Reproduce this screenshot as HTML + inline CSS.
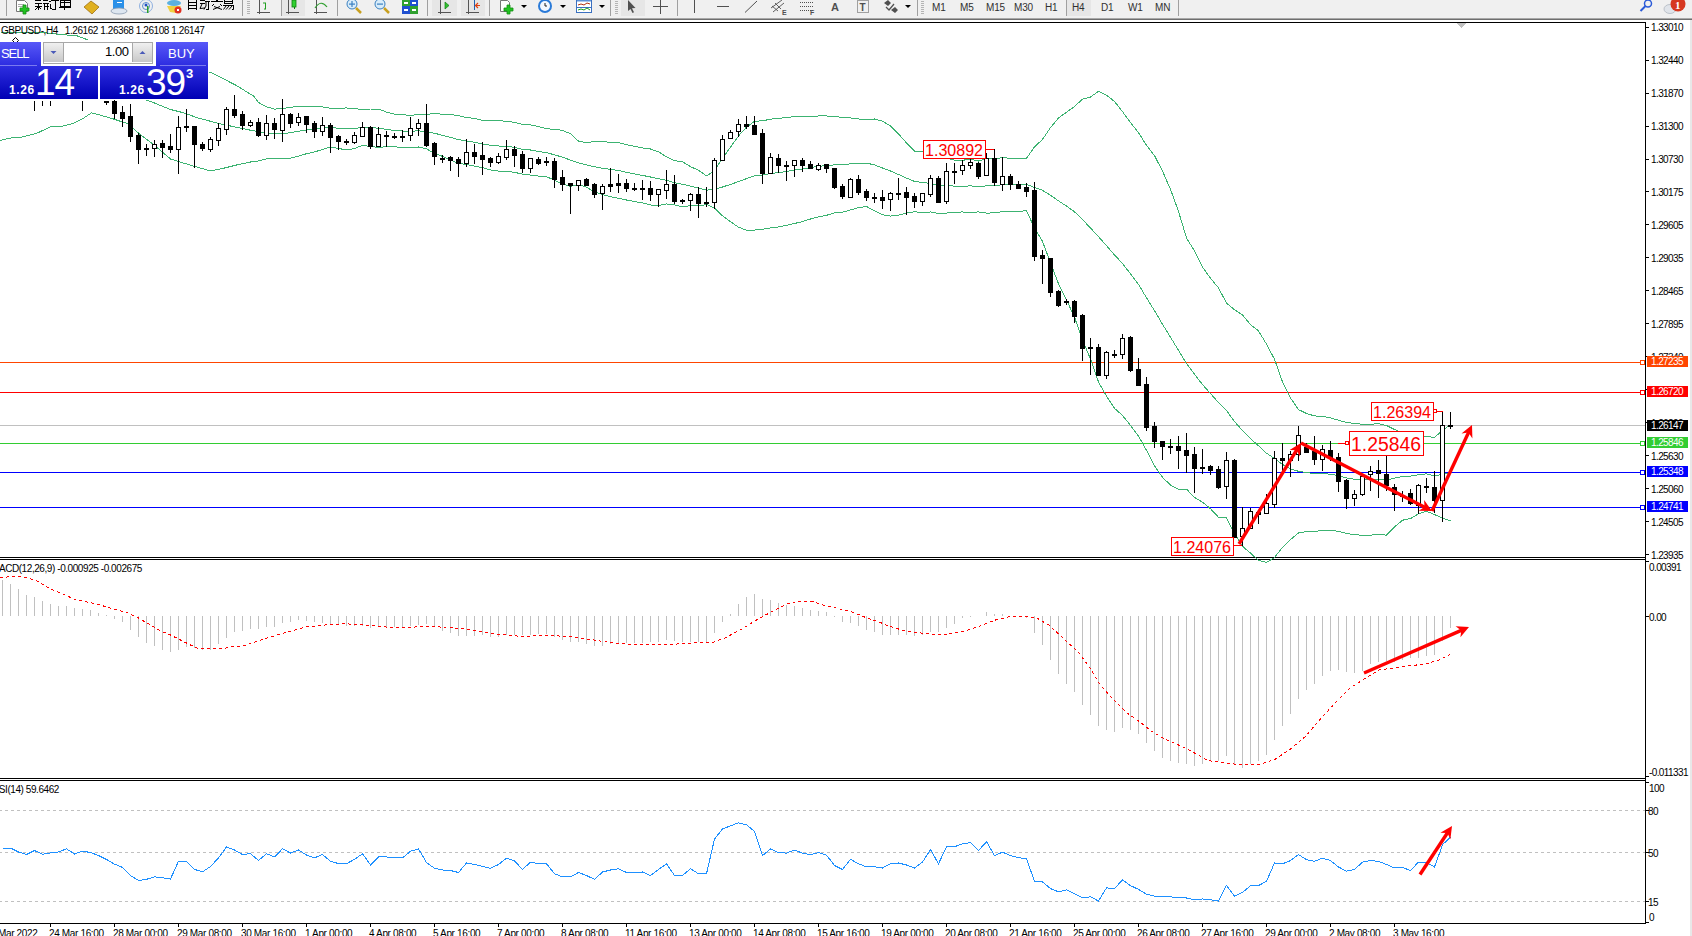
<!DOCTYPE html>
<html><head><meta charset="utf-8">
<style>
html,body{margin:0;padding:0;background:#fff;}
body{width:1692px;height:936px;position:relative;overflow:hidden;font-family:"Liberation Sans",sans-serif;}
.a{position:absolute;white-space:nowrap;}
#svg{position:absolute;left:0;top:0;}
.pl{position:absolute;left:1651px;font-size:10px;line-height:10px;letter-spacing:-0.6px;color:#000;white-space:nowrap;}
.ml{left:1649px;}
.tl{position:absolute;top:929px;font-size:10px;line-height:10px;letter-spacing:-0.35px;color:#000;white-space:nowrap;}
.lb{position:absolute;left:1647px;width:41px;height:11px;font-size:10px;line-height:11px;letter-spacing:-0.6px;color:#fff;text-indent:4px;white-space:nowrap;}
.ttl{font-size:10px;line-height:10px;letter-spacing:-0.43px;color:#000;}
.tf{top:3px;font-size:10px;line-height:10px;color:#303030;letter-spacing:-0.2px;}
.bt{font-size:13px;line-height:14px;color:#fff;}
.pr{font-size:12px;line-height:12px;color:#fff;font-weight:bold;letter-spacing:0.6px;}
.pb{font-size:37px;line-height:34px;color:#fff;letter-spacing:-1px;}
.ps{font-size:13px;line-height:12px;color:#fff;font-weight:bold;}
</style></head><body>
<div class="a" style="left:0;top:0;width:1692px;height:18px;background:#f0f0f0;"></div>
<div class="a" style="left:0;top:18px;width:1692px;height:1px;background:#a8a8a8;"></div>
<div class="a" style="left:0;top:19px;width:1692px;height:1px;background:#6e6e6e;"></div>
<svg class="a" style="left:0;top:0" width="1692" height="18" shape-rendering="geometricPrecision"><rect x="6" y="0" width="1" height="16" fill="#a0a0a0"/><rect x="242" y="0" width="1" height="16" fill="#a0a0a0"/><rect x="281" y="0" width="1" height="16" fill="#a0a0a0"/><rect x="337" y="0" width="1" height="16" fill="#a0a0a0"/><rect x="427" y="0" width="1" height="16" fill="#a0a0a0"/><rect x="432" y="0" width="1" height="16" fill="#a0a0a0"/><rect x="489" y="0" width="1" height="16" fill="#a0a0a0"/><rect x="610" y="0" width="1" height="16" fill="#a0a0a0"/><rect x="677" y="0" width="1" height="16" fill="#a0a0a0"/><rect x="917" y="0" width="1" height="16" fill="#a0a0a0"/><rect x="1066" y="0" width="1" height="16" fill="#a0a0a0"/><rect x="1178" y="0" width="1" height="16" fill="#a0a0a0"/><rect x="247" y="1" width="3" height="1" fill="#b4b4b4"/><rect x="247" y="3" width="3" height="1" fill="#b4b4b4"/><rect x="247" y="5" width="3" height="1" fill="#b4b4b4"/><rect x="247" y="7" width="3" height="1" fill="#b4b4b4"/><rect x="247" y="9" width="3" height="1" fill="#b4b4b4"/><rect x="247" y="11" width="3" height="1" fill="#b4b4b4"/><rect x="247" y="13" width="3" height="1" fill="#b4b4b4"/><rect x="615" y="1" width="3" height="1" fill="#b4b4b4"/><rect x="615" y="3" width="3" height="1" fill="#b4b4b4"/><rect x="615" y="5" width="3" height="1" fill="#b4b4b4"/><rect x="615" y="7" width="3" height="1" fill="#b4b4b4"/><rect x="615" y="9" width="3" height="1" fill="#b4b4b4"/><rect x="615" y="11" width="3" height="1" fill="#b4b4b4"/><rect x="615" y="13" width="3" height="1" fill="#b4b4b4"/><rect x="921" y="1" width="3" height="1" fill="#b4b4b4"/><rect x="921" y="3" width="3" height="1" fill="#b4b4b4"/><rect x="921" y="5" width="3" height="1" fill="#b4b4b4"/><rect x="921" y="7" width="3" height="1" fill="#b4b4b4"/><rect x="921" y="9" width="3" height="1" fill="#b4b4b4"/><rect x="921" y="11" width="3" height="1" fill="#b4b4b4"/><rect x="921" y="13" width="3" height="1" fill="#b4b4b4"/><rect x="282" y="0" width="23" height="16" fill="#e6e6e6"/><rect x="432" y="0" width="25" height="16" fill="#e6e6e6"/><rect x="461" y="0" width="24" height="16" fill="#e6e6e6"/><rect x="621" y="0" width="24" height="16" fill="#e6e6e6"/><rect x="1067" y="0" width="24" height="16" fill="#e6e6e6"/><path d="M16.5 0.5h8l3 3v8h-11z" fill="#fff" stroke="#777"/><rect x="18" y="4" width="6" height="1" fill="#aaa"/><rect x="18" y="6" width="6" height="1" fill="#aaa"/><path d="M23 5h3v3h3v3h-3v3h-3v-3h-3v-3h3z" fill="#22c322" stroke="#129012" stroke-width="0.8"/><g fill="#000"><rect x="35" y="0" width="6" height="1"/><rect x="35" y="3" width="7" height="1"/><rect x="38" y="3" width="1" height="7"/><rect x="35" y="6" width="7" height="1"/><path d="M38 7 L35 10 M39 7 L41 9" stroke="#000" stroke-width="1" fill="none"/><rect x="43" y="3" width="6" height="1"/><rect x="44" y="3" width="1" height="7"/><rect x="44" y="6" width="5" height="1"/><rect x="47" y="4" width="1" height="6"/><rect x="43" y="0" width="5" height="1"/><rect x="49" y="1" width="2" height="1"/><rect x="50" y="4" width="1" height="5"/><rect x="50" y="8" width="2" height="1"/><rect x="51" y="0" width="8" height="1"/><rect x="55" y="0" width="1" height="10"/><rect x="52" y="9" width="3" height="1"/><rect x="60" y="0" width="10" height="6" fill="none" stroke="#000" stroke-width="1" transform="translate(0.5,0.5) scale(1)"/><rect x="60" y="2" width="10" height="1"/><rect x="59" y="7" width="12" height="1"/><rect x="64" y="0" width="1" height="10"/></g><path d="M84 7 L91 1 L99 7 L92 14 Z" fill="#e0b020" stroke="#a07010" stroke-width="0.8"/><rect x="113" y="0" width="11" height="9" fill="#2a90e8"/><rect x="117" y="2" width="5" height="1" fill="#fff"/><ellipse cx="119" cy="11" rx="8" ry="3" fill="#dde6f0" stroke="#8a9ab0" stroke-width="0.8"/><circle cx="146" cy="6" r="6.5" fill="none" stroke="#8fb0e0" stroke-width="1"/><circle cx="146" cy="6" r="3.5" fill="none" stroke="#5a8ad0" stroke-width="1"/><circle cx="146" cy="5" r="1.5" fill="#2050c0"/><rect x="147" y="6" width="1.5" height="7" fill="#2aa02a"/><ellipse cx="174" cy="3" rx="7" ry="3" fill="#5ab0e0"/><path d="M167 6 L181 6 L176 13 L170 12 Z" fill="#f0d040"/><circle cx="178" cy="10" r="3.5" fill="#e03020"/><rect x="177" y="9" width="2" height="2" fill="#fff"/><g fill="#000"><rect x="188" y="0" width="1" height="10"/><rect x="196" y="0" width="1" height="10"/><rect x="188" y="2" width="9" height="1"/><rect x="188" y="5" width="9" height="1"/><rect x="188" y="8" width="9" height="1"/><rect x="200" y="0" width="5" height="1"/><rect x="200" y="3" width="5" height="1"/><path d="M202 4 L200 8.5 L205 8" stroke="#000" stroke-width="1" fill="none"/><rect x="205" y="1" width="5" height="1"/><rect x="208" y="1" width="1" height="9"/><rect x="206" y="9" width="3" height="1"/><path d="M206 2 L206 6 L204 9.5" stroke="#000" stroke-width="1" fill="none"/><rect x="211" y="1" width="12" height="1"/><rect x="216" y="0" width="2" height="1"/><path d="M214 4 L212 6 M220 4 L222 6 M213 9.5 L220 6.5 M214 6.5 L222 9.5" stroke="#000" stroke-width="1" fill="none"/><rect x="224" y="0" width="1" height="4"/><rect x="232" y="0" width="1" height="4"/><rect x="224" y="3" width="9" height="1"/><rect x="224" y="1" width="9" height="1"/><rect x="223" y="5" width="11" height="1"/><path d="M226 6 L223.5 9.5 M229 6 L226 9.5 M232 6 L229 9.5 M233.5 6 L233.5 9.5 L232 9.5" stroke="#000" stroke-width="1" fill="none"/></g><rect x="259" y="0" width="1" height="14" fill="#555"/><rect x="257" y="12" width="13" height="1" fill="#555"/><path d="M265.5 3 v6 M263 3h3 M266 9h-2" stroke="#20a020" stroke-width="1" fill="none"/><rect x="288" y="0" width="1" height="14" fill="#555"/><rect x="286" y="12" width="13" height="1" fill="#555"/><rect x="292" y="0" width="4" height="7" fill="#30d030" stroke="#108010" stroke-width="0.8"/><rect x="294" y="7" width="1" height="2" fill="#108010"/><rect x="316" y="0" width="1" height="14" fill="#555"/><rect x="314" y="12" width="13" height="1" fill="#555"/><path d="M315 8 Q321 -1 327 7" stroke="#30a030" stroke-width="1.2" fill="none"/><circle cx="352" cy="4" r="5" fill="#d8ecfa" stroke="#3a80c0" stroke-width="1"/><rect x="349" y="3.5" width="6" height="1.2" fill="#3a80c0"/><rect x="351.4" y="1" width="1.2" height="6" fill="#3a80c0"/><path d="M356 8 L361 13" stroke="#c8a020" stroke-width="2.5"/><circle cx="380" cy="4" r="5" fill="#d8ecfa" stroke="#3a80c0" stroke-width="1"/><rect x="377" y="3.5" width="6" height="1.2" fill="#3a80c0"/><path d="M384 8 L389 13" stroke="#c8a020" stroke-width="2.5"/><rect x="402" y="0" width="8" height="6" fill="#30a030"/><rect x="410" y="0" width="8" height="6" fill="#2050d0"/><rect x="402" y="6" width="8" height="8" fill="#2050d0"/><rect x="410" y="6" width="8" height="8" fill="#30a030"/><rect x="404" y="2" width="4" height="2" fill="#fff"/><rect x="412" y="2" width="4" height="2" fill="#fff"/><rect x="404" y="9" width="4" height="2" fill="#fff"/><rect x="412" y="9" width="4" height="2" fill="#fff"/><rect x="440" y="0" width="1" height="14" fill="#555"/><rect x="438" y="12" width="13" height="1" fill="#555"/><path d="M445 2 L449 5.5 L445 9 Z" fill="#30c030" stroke="#108010" stroke-width="0.7"/><rect x="468" y="0" width="1" height="14" fill="#555"/><rect x="466" y="12" width="13" height="1" fill="#555"/><rect x="474" y="0" width="1" height="10" fill="#2060b0"/><path d="M480 5.5 L476 5.5 M478 3 L475.5 5.5 L478 8" stroke="#e04010" stroke-width="1.2" fill="none"/><path d="M500.5 0.5h7l2 2v9h-9z" fill="#fff" stroke="#777"/><path d="M507 5h3v3h3v3h-3v3h-3v-3h-3v-3h3z" fill="#22c322" stroke="#129012" stroke-width="0.8"/><path d="M521 5 h6 l-3 3 z" fill="#000"/><path d="M560 5 h6 l-3 3 z" fill="#000"/><path d="M599 5 h6 l-3 3 z" fill="#000"/><path d="M905 5 h6 l-3 3 z" fill="#000"/><circle cx="545" cy="6" r="7" fill="#2a7ad8"/><circle cx="545" cy="6" r="5" fill="#f4f8ff"/><path d="M545 3 v3 h2" stroke="#222" stroke-width="1" fill="none"/><rect x="576.5" y="0" width="15" height="12.5" fill="#fff" stroke="#3a70c0"/><rect x="577" y="0" width="14" height="1.5" fill="#5a90d8"/><rect x="577" y="7" width="14" height="1" fill="#3a70c0"/><path d="M578 5 L581 4 L584 5 L587 3 L590 4" stroke="#b03010" stroke-width="1" fill="none"/><path d="M578 10 L581 9 L584 10 L587 8 L590 10" stroke="#20a020" stroke-width="1" fill="none"/><path d="M628 0 L628 11 L630.5 9 L632.5 13 L634 12.3 L632 8.3 L635.5 8 Z" fill="#505050"/><rect x="653" y="6" width="15" height="1" fill="#505050"/><rect x="660" y="0" width="1" height="14" fill="#505050"/><rect x="694" y="0" width="1" height="13" fill="#505050"/><rect x="717" y="6" width="12" height="1" fill="#505050"/><path d="M745 12.5 L757 1" stroke="#505050" stroke-width="1"/><path d="M771 8 L782 0 M773 12 L784 3 M772 6 L778 11 M775 3 L781 9" stroke="#505050" stroke-width="0.9"/><text x="782" y="15" font-size="7" font-weight="bold" fill="#505050" font-family="Liberation Sans">E</text><path d="M800 2.5 h13" stroke="#505050" stroke-width="1" stroke-dasharray="1 1"/><path d="M800 6.5 h13" stroke="#505050" stroke-width="1" stroke-dasharray="1 1"/><path d="M800 10.5 h13" stroke="#505050" stroke-width="1" stroke-dasharray="1 1"/><text x="810" y="15" font-size="7" font-weight="bold" fill="#505050" font-family="Liberation Sans">F</text><text x="831" y="11" font-size="11" font-weight="bold" fill="#505050" font-family="Liberation Sans">A</text><rect x="857.5" y="0.5" width="11" height="12" fill="none" stroke="#505050" stroke-dasharray="1 1"/><text x="859.5" y="10.5" font-size="10" font-weight="bold" fill="#505050" font-family="Liberation Sans">T</text><path d="M884 3 L888 0 L891 3 L888 6 Z M891 10 L895 7 L898 10 L895 13 Z" fill="#505050"/><path d="M886 7 L889 10 L894 4" stroke="#505050" stroke-width="1.3" fill="none"/><circle cx="1648" cy="3.5" r="3.5" fill="none" stroke="#2a5ad8" stroke-width="1.5"/><path d="M1645.5 6 L1640.5 11" stroke="#2a5ad8" stroke-width="2"/><ellipse cx="1670" cy="9" rx="6" ry="4.5" fill="#e0e4ea" stroke="#b0b8c0" stroke-width="0.8"/><circle cx="1678" cy="4" r="7.5" fill="#d63820"/><text x="1675" y="8.5" font-size="11" fill="#fff" font-family="Liberation Serif" font-weight="bold">1</text></svg>
<div class="a tf" style="left:932px;">M1</div>
<div class="a tf" style="left:960px;">M5</div>
<div class="a tf" style="left:986px;">M15</div>
<div class="a tf" style="left:1014px;">M30</div>
<div class="a tf" style="left:1045px;">H1</div>
<div class="a tf" style="left:1072px;">H4</div>
<div class="a tf" style="left:1101px;">D1</div>
<div class="a tf" style="left:1128px;">W1</div>
<div class="a tf" style="left:1155px;">MN</div>
<svg id="svg" width="1692" height="936" viewBox="0 0 1692 936">
<rect x="0" y="20" width="1692" height="916" fill="#fff"/><g shape-rendering="crispEdges"><rect x="0" y="22" width="1646" height="1" fill="#000"/><rect x="0" y="557" width="1646" height="1" fill="#000"/><rect x="0" y="559" width="1646" height="1" fill="#000"/><rect x="0" y="778" width="1646" height="1" fill="#000"/><rect x="0" y="780" width="1646" height="1" fill="#000"/><rect x="0" y="923" width="1646" height="1" fill="#000"/><rect x="1645" y="22" width="1" height="902" fill="#000"/><rect x="1690" y="20" width="2" height="916" fill="#e8e8e8"/><rect x="1646" y="27" width="3" height="1" fill="#000"/><rect x="1646" y="60" width="3" height="1" fill="#000"/><rect x="1646" y="93" width="3" height="1" fill="#000"/><rect x="1646" y="126" width="3" height="1" fill="#000"/><rect x="1646" y="159" width="3" height="1" fill="#000"/><rect x="1646" y="191" width="3" height="1" fill="#000"/><rect x="1646" y="224" width="3" height="1" fill="#000"/><rect x="1646" y="257" width="3" height="1" fill="#000"/><rect x="1646" y="290" width="3" height="1" fill="#000"/><rect x="1646" y="323" width="3" height="1" fill="#000"/><rect x="1646" y="356" width="3" height="1" fill="#000"/><rect x="1646" y="389" width="3" height="1" fill="#000"/><rect x="1646" y="422" width="3" height="1" fill="#000"/><rect x="1646" y="455" width="3" height="1" fill="#000"/><rect x="1646" y="488" width="3" height="1" fill="#000"/><rect x="1646" y="521" width="3" height="1" fill="#000"/><rect x="1646" y="554" width="3" height="1" fill="#000"/><rect x="1646" y="561" width="3" height="1" fill="#000"/><rect x="1646" y="616" width="3" height="1" fill="#000"/><rect x="1646" y="776" width="3" height="1" fill="#000"/><rect x="1646" y="782" width="3" height="1" fill="#000"/><rect x="1646" y="810" width="3" height="1" fill="#000"/><rect x="1646" y="852" width="3" height="1" fill="#000"/><rect x="1646" y="901" width="3" height="1" fill="#000"/><rect x="1646" y="922" width="3" height="1" fill="#000"/><rect x="50" y="924" width="1" height="3" fill="#000"/><rect x="114" y="924" width="1" height="3" fill="#000"/><rect x="178" y="924" width="1" height="3" fill="#000"/><rect x="242" y="924" width="1" height="3" fill="#000"/><rect x="306" y="924" width="1" height="3" fill="#000"/><rect x="370" y="924" width="1" height="3" fill="#000"/><rect x="434" y="924" width="1" height="3" fill="#000"/><rect x="498" y="924" width="1" height="3" fill="#000"/><rect x="562" y="924" width="1" height="3" fill="#000"/><rect x="626" y="924" width="1" height="3" fill="#000"/><rect x="690" y="924" width="1" height="3" fill="#000"/><rect x="754" y="924" width="1" height="3" fill="#000"/><rect x="818" y="924" width="1" height="3" fill="#000"/><rect x="882" y="924" width="1" height="3" fill="#000"/><rect x="946" y="924" width="1" height="3" fill="#000"/><rect x="1010" y="924" width="1" height="3" fill="#000"/><rect x="1074" y="924" width="1" height="3" fill="#000"/><rect x="1138" y="924" width="1" height="3" fill="#000"/><rect x="1202" y="924" width="1" height="3" fill="#000"/><rect x="1266" y="924" width="1" height="3" fill="#000"/><rect x="1330" y="924" width="1" height="3" fill="#000"/><rect x="1394" y="924" width="1" height="3" fill="#000"/><path d="M1457 23 L1466 23 L1461.5 28 Z" fill="#c0c0c0"/></g><g shape-rendering="crispEdges">
<rect x="0" y="425" width="1645" height="1" fill="#c0c0c0"/>
<rect x="0" y="362" width="1640" height="1" fill="#ff4500"/>
<rect x="1640.5" y="360.0" width="4" height="4" fill="#fff" stroke="#ff4500" stroke-width="1"/>
<rect x="0" y="392" width="1640" height="1" fill="#ff0000"/>
<rect x="1640.5" y="390.0" width="4" height="4" fill="#fff" stroke="#ff0000" stroke-width="1"/>
<rect x="0" y="443" width="1640" height="1" fill="#32cd32"/>
<rect x="1640.5" y="441.0" width="4" height="4" fill="#fff" stroke="#32cd32" stroke-width="1"/>
<rect x="0" y="472" width="1640" height="1" fill="#0000ff"/>
<rect x="1640.5" y="470.0" width="4" height="4" fill="#fff" stroke="#0000ff" stroke-width="1"/>
<rect x="0" y="507" width="1640" height="1" fill="#0000ff"/>
<rect x="1640.5" y="505.0" width="4" height="4" fill="#fff" stroke="#0000ff" stroke-width="1"/>
</g>
<g shape-rendering="crispEdges"><polyline points="0.5,32.9 46.5,32.9 50.5,33.5 77.5,36 88.5,40.1 100.5,45.5 140.5,60.5 211.1,72.5 236,85.3 253.5,96 258.5,102.5 266.5,106.8 274.5,109.1 282.5,108.5 290.5,107.4 298.5,106.3 306.5,106.2 314.5,106.5 322.5,107 330.5,108.3 338.5,108.1 346.5,108 354.5,108.5 362.5,109.7 370.5,109 378.5,109 386.5,112.1 394.5,114.1 402.5,114.7 410.5,115.4 418.5,114.6 426.5,114.8 434.5,113.1 442.5,114.4 450.5,114.4 458.5,115.7 466.5,117.6 474.5,118.4 482.5,120.3 490.5,120.4 498.5,120.8 506.5,121.2 514.5,122.4 522.5,124.5 530.5,124.9 538.5,126.6 546.5,128.7 554.5,129.5 562.5,130.3 570.5,133.8 578.5,141.1 586.5,142.7 594.5,141.5 602.5,141.8 610.5,142.2 618.5,142.6 626.5,144.6 634.5,146.3 642.5,147.9 650.5,149 658.5,151.8 666.5,156.9 674.5,160.6 682.5,161.9 690.5,166.6 698.5,170.3 706.5,175.9 714.5,170.6 722.5,158.3 730.5,147.1 738.5,136 746.5,127.1 754.5,121.3 762.5,120.8 770.5,119.2 778.5,118.3 786.5,117.6 794.5,116.6 802.5,116.1 810.5,116.2 818.5,116 826.5,115.9 834.5,116.8 842.5,117.2 850.5,117.9 858.5,119 866.5,119.7 874.5,119 882.5,121.2 890.5,125.9 898.5,133.9 906.5,143 914.5,151.1 922.5,151.9 930.5,155 938.5,157.1 946.5,158.1 954.5,160.2 962.5,160.3 970.5,159.1 978.5,161 986.5,158.8 994.5,158.5 1002.5,157.8 1010.5,158.2 1018.5,158.1 1026.5,158.3 1034.5,146.9 1042.5,139.4 1050.5,127.6 1058.5,117.9 1066.5,112.3 1074.5,106.5 1082.5,99.1 1090.5,97 1098.5,91.4 1106.5,95.3 1114.5,101.4 1122.5,111.6 1130.5,122.6 1138.5,132.6 1146.5,145.3 1154.5,155.6 1162.5,171.1 1170.5,189.4 1178.5,211.4 1186.5,238 1194.5,250.9 1202.5,267 1210.5,278.3 1218.5,287.9 1226.5,303 1234.5,309.8 1242.5,314.9 1250.5,324.6 1258.5,330.9 1266.5,344.1 1274.5,359.3 1282.5,381.9 1290.5,398 1298.5,409.6 1306.5,413.5 1314.5,415.9 1322.5,416.4 1330.5,417.8 1338.5,420.3 1346.5,422.4 1354.5,423.5 1362.5,424.2 1370.5,424.3 1378.5,423.7 1386.5,425.5 1394.5,429.5 1402.5,432.8 1410.5,433.6 1418.5,435.5 1426.5,436.5 1434.5,437.4 1442.5,430.3 1450.5,424.6" fill="none" stroke="#3cb371" stroke-width="1" />
<polyline points="140.5,98 151.2,101.7 170.5,109.5 185.2,113.2 197,117.7 219.2,123.6 229.5,125.8 250.5,130.2 258.5,131.7 266.5,132.8 274.5,133.6 282.5,133.4 290.5,132.8 298.5,131.2 306.5,130 314.5,129.3 322.5,128.2 330.5,127.6 338.5,128.2 346.5,129 354.5,128.5 362.5,127.5 370.5,127.8 378.5,128.1 386.5,129.4 394.5,130.5 402.5,131 410.5,131.3 418.5,130.8 426.5,131.8 434.5,133.2 442.5,135.4 450.5,137.3 458.5,139.6 466.5,141 474.5,142.2 482.5,143.9 490.5,145.2 498.5,146 506.5,146.4 514.5,147.3 522.5,149.3 530.5,150 538.5,151.4 546.5,152.7 554.5,154.8 562.5,157.2 570.5,160.1 578.5,162.9 586.5,164.9 594.5,166.7 602.5,168.2 610.5,169.4 618.5,170.5 626.5,172.3 634.5,173.9 642.5,175.4 650.5,177 658.5,178.7 666.5,180.4 674.5,182.7 682.5,184.3 690.5,186.1 698.5,188.1 706.5,190.2 714.5,189.3 722.5,187 730.5,184.4 738.5,181.6 746.5,178.6 754.5,175.7 762.5,175 770.5,173.6 778.5,172.6 786.5,171.5 794.5,170.1 802.5,168.9 810.5,167.6 818.5,166.4 826.5,165.6 834.5,164.9 842.5,164.7 850.5,163.9 858.5,163.4 866.5,163.1 874.5,164.9 882.5,168 890.5,171 898.5,174.5 906.5,178.1 914.5,181.4 922.5,182.4 930.5,183.5 938.5,185.3 946.5,185.6 954.5,186.1 962.5,186.2 970.5,185.9 978.5,186.4 986.5,185.9 994.5,185.7 1002.5,184.7 1010.5,185 1018.5,184.8 1026.5,184.5 1034.5,187.4 1042.5,190.3 1050.5,195.3 1058.5,200.9 1066.5,206.1 1074.5,211.8 1082.5,219.6 1090.5,228 1098.5,236.7 1106.5,245.7 1114.5,254.9 1122.5,263.5 1130.5,273.9 1138.5,284.4 1146.5,297.8 1154.5,310.7 1162.5,324.2 1170.5,337.2 1178.5,350.4 1186.5,363.6 1194.5,374.2 1202.5,384.6 1210.5,393.5 1218.5,402.6 1226.5,410.5 1234.5,421.6 1242.5,430.6 1250.5,438.8 1258.5,445.7 1266.5,453.2 1274.5,458.4 1282.5,464.5 1290.5,468.8 1298.5,471.3 1306.5,472.6 1314.5,473.5 1322.5,473.6 1330.5,474.2 1338.5,475.7 1346.5,477.9 1354.5,479.2 1362.5,479.7 1370.5,479.7 1378.5,479.1 1386.5,480.3 1394.5,478.2 1402.5,476.5 1410.5,476.1 1418.5,474.7 1426.5,473.9 1434.5,476 1442.5,474.2 1450.5,472.7" fill="none" stroke="#3cb371" stroke-width="1" />
<polyline points="0.5,140.5 9.4,138.1 19.7,137.6 36,133.6 50.7,126.8 59.5,126.8 72.9,123.6 83.2,118.4 91.4,112.9 98,114.4 112.8,118.8 127.5,123.6 139.5,133.9 154.2,145 170.5,159 189.5,164.9 210.3,170.9 222.1,168.6 236.9,164.9 250.5,162 258.5,160.9 266.5,158.8 274.5,158.1 282.5,158.4 290.5,158.1 298.5,156.1 306.5,153.7 314.5,152 322.5,149.4 330.5,146.9 338.5,148.4 346.5,150 354.5,148.5 362.5,145.3 370.5,146.7 378.5,147.3 386.5,146.8 394.5,146.8 402.5,147.4 410.5,147.3 418.5,147 426.5,148.8 434.5,153.4 442.5,156.4 450.5,160.1 458.5,163.4 466.5,164.4 474.5,166.1 482.5,167.6 490.5,169.9 498.5,171.1 506.5,171.5 514.5,172.3 522.5,174.2 530.5,175.1 538.5,176.1 546.5,176.7 554.5,180.2 562.5,184.2 570.5,186.3 578.5,184.6 586.5,187.1 594.5,192 602.5,194.5 610.5,196.6 618.5,198.3 626.5,200 634.5,201.5 642.5,202.9 650.5,205 658.5,205.5 666.5,203.9 674.5,204.8 682.5,206.8 690.5,205.7 698.5,205.9 706.5,204.5 714.5,208 722.5,215.8 730.5,221.7 738.5,227.2 746.5,230.2 754.5,230.1 762.5,229.2 770.5,228 778.5,226.9 786.5,225.3 794.5,223.5 802.5,221.6 810.5,219 818.5,216.8 826.5,215.3 834.5,212.9 842.5,212.2 850.5,209.9 858.5,207.7 866.5,206.5 874.5,210.8 882.5,214.7 890.5,216.1 898.5,215.1 906.5,213.1 914.5,211.7 922.5,212.9 930.5,211.9 938.5,213.5 946.5,213.1 954.5,212.1 962.5,212 970.5,212.6 978.5,211.9 986.5,213.1 994.5,212.9 1002.5,211.6 1010.5,211.8 1018.5,211.4 1026.5,210.7 1034.5,228 1042.5,241.3 1050.5,262.9 1058.5,283.8 1066.5,299.9 1074.5,317.1 1082.5,340 1090.5,359 1098.5,382 1106.5,396.2 1114.5,408.3 1122.5,415.5 1130.5,425.3 1138.5,436.1 1146.5,450.3 1154.5,465.8 1162.5,477.3 1170.5,485.1 1178.5,489.3 1186.5,489.1 1194.5,497.4 1202.5,502.2 1210.5,508.7 1218.5,517.3 1226.5,518 1234.5,533.4 1242.5,546.3 1250.5,553.1 1258.5,560.5 1266.5,562.3 1274.5,557.6 1282.5,547.2 1290.5,539.6 1298.5,533 1306.5,531.6 1314.5,531.1 1322.5,530.9 1330.5,530.6 1338.5,531.2 1346.5,533.4 1354.5,534.9 1362.5,535.1 1370.5,535.1 1378.5,534.4 1386.5,535.1 1394.5,526.9 1402.5,520.2 1410.5,518.6 1418.5,513.9 1426.5,511.3 1434.5,514.5 1442.5,518.1 1450.5,520.9" fill="none" stroke="#3cb371" stroke-width="1" /></g>
<g fill="#000" shape-rendering="crispEdges"><rect x="34" y="101" width="1" height="10"/>
<rect x="42" y="101" width="1" height="5"/>
<rect x="50" y="101" width="1" height="5"/>
<rect x="82" y="101" width="1" height="10"/>
<rect x="106" y="101" width="1" height="4"/>
<rect x="104" y="101" width="5" height="2"/>
<rect x="114" y="99" width="1" height="20"/>
<rect x="112" y="101" width="5" height="13"/>
<rect x="122" y="106" width="1" height="21"/>
<rect x="120" y="112" width="5" height="7"/>
<rect x="130" y="104" width="1" height="38"/>
<rect x="128" y="116" width="5" height="21"/>
<rect x="138" y="133" width="1" height="31"/>
<rect x="136" y="135" width="5" height="15"/>
<rect x="146" y="144" width="1" height="12"/>
<rect x="144" y="148" width="5" height="2"/>
<rect x="154" y="140" width="1" height="17"/>
<rect x="152" y="144" width="5" height="5"/>
<rect x="153" y="145" width="3" height="3" fill="#fff"/>
<rect x="162" y="140" width="1" height="18"/>
<rect x="160" y="143" width="5" height="5"/>
<rect x="170" y="134" width="1" height="19"/>
<rect x="168" y="146" width="5" height="4"/>
<rect x="178" y="116" width="1" height="58"/>
<rect x="176" y="127" width="5" height="23"/>
<rect x="177" y="128" width="3" height="21" fill="#fff"/>
<rect x="186" y="109" width="1" height="23"/>
<rect x="184" y="126" width="5" height="2"/>
<rect x="194" y="126" width="1" height="42"/>
<rect x="192" y="126" width="5" height="19"/>
<rect x="202" y="142" width="1" height="9"/>
<rect x="200" y="144" width="5" height="5"/>
<rect x="210" y="137" width="1" height="15"/>
<rect x="208" y="139" width="5" height="11"/>
<rect x="209" y="140" width="3" height="9" fill="#fff"/>
<rect x="218" y="123" width="1" height="23"/>
<rect x="216" y="128" width="5" height="13"/>
<rect x="217" y="129" width="3" height="11" fill="#fff"/>
<rect x="226" y="107" width="1" height="28"/>
<rect x="224" y="109" width="5" height="21"/>
<rect x="225" y="110" width="3" height="19" fill="#fff"/>
<rect x="234" y="95" width="1" height="23"/>
<rect x="232" y="109" width="5" height="7"/>
<rect x="242" y="111" width="1" height="19"/>
<rect x="240" y="114" width="5" height="12"/>
<rect x="250" y="120" width="1" height="7"/>
<rect x="248" y="122" width="5" height="4"/>
<rect x="249" y="123" width="3" height="2" fill="#fff"/>
<rect x="258" y="118" width="1" height="19"/>
<rect x="256" y="122" width="5" height="14"/>
<rect x="266" y="115" width="1" height="25"/>
<rect x="264" y="123" width="5" height="13"/>
<rect x="265" y="124" width="3" height="11" fill="#fff"/>
<rect x="274" y="118" width="1" height="21"/>
<rect x="272" y="123" width="5" height="7"/>
<rect x="282" y="99" width="1" height="43"/>
<rect x="280" y="114" width="5" height="17"/>
<rect x="281" y="115" width="3" height="15" fill="#fff"/>
<rect x="290" y="113" width="1" height="15"/>
<rect x="288" y="114" width="5" height="10"/>
<rect x="298" y="113" width="1" height="13"/>
<rect x="296" y="117" width="5" height="6"/>
<rect x="297" y="118" width="3" height="4" fill="#fff"/>
<rect x="306" y="116" width="1" height="17"/>
<rect x="304" y="116" width="5" height="9"/>
<rect x="314" y="121" width="1" height="17"/>
<rect x="312" y="123" width="5" height="9"/>
<rect x="322" y="117" width="1" height="19"/>
<rect x="320" y="125" width="5" height="7"/>
<rect x="321" y="126" width="3" height="5" fill="#fff"/>
<rect x="330" y="123" width="1" height="30"/>
<rect x="328" y="125" width="5" height="13"/>
<rect x="338" y="135" width="1" height="15"/>
<rect x="336" y="136" width="5" height="6"/>
<rect x="346" y="139" width="1" height="6"/>
<rect x="344" y="141" width="5" height="2"/>
<rect x="354" y="132" width="1" height="12"/>
<rect x="352" y="135" width="5" height="8"/>
<rect x="353" y="136" width="3" height="6" fill="#fff"/>
<rect x="362" y="122" width="1" height="15"/>
<rect x="360" y="127" width="5" height="10"/>
<rect x="361" y="128" width="3" height="8" fill="#fff"/>
<rect x="370" y="126" width="1" height="23"/>
<rect x="368" y="127" width="5" height="20"/>
<rect x="378" y="127" width="1" height="20"/>
<rect x="376" y="134" width="5" height="13"/>
<rect x="377" y="135" width="3" height="11" fill="#fff"/>
<rect x="386" y="131" width="1" height="16"/>
<rect x="384" y="135" width="5" height="2"/>
<rect x="394" y="133" width="1" height="6"/>
<rect x="392" y="136" width="5" height="2"/>
<rect x="402" y="130" width="1" height="12"/>
<rect x="400" y="136" width="5" height="2"/>
<rect x="410" y="117" width="1" height="24"/>
<rect x="408" y="128" width="5" height="8"/>
<rect x="409" y="129" width="3" height="6" fill="#fff"/>
<rect x="418" y="119" width="1" height="17"/>
<rect x="416" y="123" width="5" height="6"/>
<rect x="417" y="124" width="3" height="4" fill="#fff"/>
<rect x="426" y="104" width="1" height="43"/>
<rect x="424" y="123" width="5" height="23"/>
<rect x="434" y="142" width="1" height="23"/>
<rect x="432" y="143" width="5" height="14"/>
<rect x="442" y="155" width="1" height="8"/>
<rect x="440" y="158" width="5" height="2"/>
<rect x="450" y="156" width="1" height="15"/>
<rect x="448" y="157" width="5" height="4"/>
<rect x="458" y="157" width="1" height="20"/>
<rect x="456" y="159" width="5" height="5"/>
<rect x="466" y="139" width="1" height="28"/>
<rect x="464" y="152" width="5" height="12"/>
<rect x="465" y="153" width="3" height="10" fill="#fff"/>
<rect x="474" y="144" width="1" height="20"/>
<rect x="472" y="152" width="5" height="5"/>
<rect x="482" y="142" width="1" height="33"/>
<rect x="480" y="155" width="5" height="5"/>
<rect x="490" y="157" width="1" height="10"/>
<rect x="488" y="158" width="5" height="5"/>
<rect x="498" y="153" width="1" height="11"/>
<rect x="496" y="156" width="5" height="7"/>
<rect x="497" y="157" width="3" height="5" fill="#fff"/>
<rect x="506" y="140" width="1" height="20"/>
<rect x="504" y="149" width="5" height="9"/>
<rect x="505" y="150" width="3" height="7" fill="#fff"/>
<rect x="514" y="146" width="1" height="21"/>
<rect x="512" y="149" width="5" height="7"/>
<rect x="522" y="151" width="1" height="22"/>
<rect x="520" y="154" width="5" height="15"/>
<rect x="530" y="158" width="1" height="15"/>
<rect x="528" y="158" width="5" height="11"/>
<rect x="529" y="159" width="3" height="9" fill="#fff"/>
<rect x="538" y="157" width="1" height="8"/>
<rect x="536" y="159" width="5" height="5"/>
<rect x="546" y="157" width="1" height="9"/>
<rect x="544" y="161" width="5" height="2"/>
<rect x="554" y="158" width="1" height="30"/>
<rect x="552" y="161" width="5" height="19"/>
<rect x="562" y="170" width="1" height="21"/>
<rect x="560" y="177" width="5" height="8"/>
<rect x="570" y="183" width="1" height="31"/>
<rect x="568" y="183" width="5" height="3"/>
<rect x="578" y="180" width="1" height="11"/>
<rect x="576" y="180" width="5" height="6"/>
<rect x="577" y="181" width="3" height="4" fill="#fff"/>
<rect x="586" y="178" width="1" height="8"/>
<rect x="584" y="179" width="5" height="7"/>
<rect x="594" y="183" width="1" height="15"/>
<rect x="592" y="184" width="5" height="11"/>
<rect x="602" y="184" width="1" height="26"/>
<rect x="600" y="186" width="5" height="8"/>
<rect x="601" y="187" width="3" height="6" fill="#fff"/>
<rect x="610" y="168" width="1" height="24"/>
<rect x="608" y="184" width="5" height="3"/>
<rect x="618" y="174" width="1" height="19"/>
<rect x="616" y="183" width="5" height="3"/>
<rect x="626" y="179" width="1" height="13"/>
<rect x="624" y="183" width="5" height="6"/>
<rect x="634" y="183" width="1" height="8"/>
<rect x="632" y="188" width="5" height="2"/>
<rect x="642" y="180" width="1" height="20"/>
<rect x="640" y="188" width="5" height="2"/>
<rect x="650" y="181" width="1" height="20"/>
<rect x="648" y="188" width="5" height="7"/>
<rect x="658" y="189" width="1" height="18"/>
<rect x="656" y="189" width="5" height="6"/>
<rect x="657" y="190" width="3" height="4" fill="#fff"/>
<rect x="666" y="170" width="1" height="29"/>
<rect x="664" y="184" width="5" height="7"/>
<rect x="665" y="185" width="3" height="5" fill="#fff"/>
<rect x="674" y="175" width="1" height="29"/>
<rect x="672" y="184" width="5" height="18"/>
<rect x="682" y="199" width="1" height="5"/>
<rect x="680" y="200" width="5" height="2"/>
<rect x="690" y="193" width="1" height="18"/>
<rect x="688" y="194" width="5" height="7"/>
<rect x="689" y="195" width="3" height="5" fill="#fff"/>
<rect x="698" y="187" width="1" height="31"/>
<rect x="696" y="194" width="5" height="10"/>
<rect x="706" y="187" width="1" height="20"/>
<rect x="704" y="202" width="5" height="2"/>
<rect x="714" y="158" width="1" height="51"/>
<rect x="712" y="160" width="5" height="43"/>
<rect x="713" y="161" width="3" height="41" fill="#fff"/>
<rect x="722" y="135" width="1" height="26"/>
<rect x="720" y="139" width="5" height="22"/>
<rect x="721" y="140" width="3" height="20" fill="#fff"/>
<rect x="730" y="130" width="1" height="9"/>
<rect x="728" y="132" width="5" height="7"/>
<rect x="729" y="133" width="3" height="5" fill="#fff"/>
<rect x="738" y="119" width="1" height="18"/>
<rect x="736" y="124" width="5" height="8"/>
<rect x="737" y="125" width="3" height="6" fill="#fff"/>
<rect x="746" y="116" width="1" height="13"/>
<rect x="744" y="124" width="5" height="3"/>
<rect x="754" y="116" width="1" height="19"/>
<rect x="752" y="125" width="5" height="10"/>
<rect x="762" y="129" width="1" height="55"/>
<rect x="760" y="133" width="5" height="41"/>
<rect x="770" y="153" width="1" height="21"/>
<rect x="768" y="157" width="5" height="17"/>
<rect x="769" y="158" width="3" height="15" fill="#fff"/>
<rect x="778" y="154" width="1" height="19"/>
<rect x="776" y="158" width="5" height="8"/>
<rect x="786" y="161" width="1" height="20"/>
<rect x="784" y="165" width="5" height="2"/>
<rect x="794" y="160" width="1" height="17"/>
<rect x="792" y="160" width="5" height="6"/>
<rect x="793" y="161" width="3" height="4" fill="#fff"/>
<rect x="802" y="158" width="1" height="14"/>
<rect x="800" y="160" width="5" height="6"/>
<rect x="810" y="161" width="1" height="8"/>
<rect x="808" y="164" width="5" height="5"/>
<rect x="818" y="163" width="1" height="8"/>
<rect x="816" y="165" width="5" height="5"/>
<rect x="817" y="166" width="3" height="3" fill="#fff"/>
<rect x="826" y="164" width="1" height="9"/>
<rect x="824" y="164" width="5" height="5"/>
<rect x="834" y="168" width="1" height="21"/>
<rect x="832" y="168" width="5" height="20"/>
<rect x="842" y="184" width="1" height="15"/>
<rect x="840" y="186" width="5" height="11"/>
<rect x="850" y="178" width="1" height="20"/>
<rect x="848" y="179" width="5" height="19"/>
<rect x="849" y="180" width="3" height="17" fill="#fff"/>
<rect x="858" y="175" width="1" height="20"/>
<rect x="856" y="179" width="5" height="14"/>
<rect x="866" y="189" width="1" height="12"/>
<rect x="864" y="191" width="5" height="7"/>
<rect x="874" y="193" width="1" height="10"/>
<rect x="872" y="197" width="5" height="2"/>
<rect x="882" y="190" width="1" height="19"/>
<rect x="880" y="197" width="5" height="4"/>
<rect x="890" y="192" width="1" height="19"/>
<rect x="888" y="193" width="5" height="7"/>
<rect x="889" y="194" width="3" height="5" fill="#fff"/>
<rect x="898" y="178" width="1" height="22"/>
<rect x="896" y="193" width="5" height="2"/>
<rect x="906" y="187" width="1" height="28"/>
<rect x="904" y="192" width="5" height="6"/>
<rect x="914" y="193" width="1" height="15"/>
<rect x="912" y="196" width="5" height="6"/>
<rect x="922" y="193" width="1" height="13"/>
<rect x="920" y="193" width="5" height="9"/>
<rect x="921" y="194" width="3" height="7" fill="#fff"/>
<rect x="930" y="175" width="1" height="22"/>
<rect x="928" y="178" width="5" height="17"/>
<rect x="929" y="179" width="3" height="15" fill="#fff"/>
<rect x="938" y="176" width="1" height="27"/>
<rect x="936" y="178" width="5" height="25"/>
<rect x="946" y="163" width="1" height="41"/>
<rect x="944" y="171" width="5" height="31"/>
<rect x="945" y="172" width="3" height="29" fill="#fff"/>
<rect x="954" y="163" width="1" height="21"/>
<rect x="952" y="171" width="5" height="2"/>
<rect x="962" y="160" width="1" height="15"/>
<rect x="960" y="165" width="5" height="6"/>
<rect x="961" y="166" width="3" height="4" fill="#fff"/>
<rect x="970" y="158" width="1" height="11"/>
<rect x="968" y="162" width="5" height="4"/>
<rect x="969" y="163" width="3" height="2" fill="#fff"/>
<rect x="978" y="162" width="1" height="17"/>
<rect x="976" y="163" width="5" height="14"/>
<rect x="986" y="153" width="1" height="23"/>
<rect x="984" y="158" width="5" height="18"/>
<rect x="985" y="159" width="3" height="16" fill="#fff"/>
<rect x="994" y="149" width="1" height="37"/>
<rect x="992" y="158" width="5" height="25"/>
<rect x="1002" y="157" width="1" height="34"/>
<rect x="1000" y="176" width="5" height="9"/>
<rect x="1001" y="177" width="3" height="7" fill="#fff"/>
<rect x="1010" y="174" width="1" height="16"/>
<rect x="1008" y="176" width="5" height="9"/>
<rect x="1018" y="181" width="1" height="8"/>
<rect x="1016" y="184" width="5" height="5"/>
<rect x="1026" y="183" width="1" height="14"/>
<rect x="1024" y="187" width="5" height="5"/>
<rect x="1034" y="182" width="1" height="79"/>
<rect x="1032" y="190" width="5" height="67"/>
<rect x="1042" y="250" width="1" height="34"/>
<rect x="1040" y="255" width="5" height="4"/>
<rect x="1050" y="258" width="1" height="39"/>
<rect x="1048" y="258" width="5" height="35"/>
<rect x="1058" y="290" width="1" height="17"/>
<rect x="1056" y="291" width="5" height="15"/>
<rect x="1066" y="299" width="1" height="6"/>
<rect x="1064" y="301" width="5" height="2"/>
<rect x="1074" y="300" width="1" height="23"/>
<rect x="1072" y="301" width="5" height="16"/>
<rect x="1082" y="314" width="1" height="47"/>
<rect x="1080" y="315" width="5" height="34"/>
<rect x="1090" y="338" width="1" height="37"/>
<rect x="1088" y="347" width="5" height="2"/>
<rect x="1098" y="344" width="1" height="32"/>
<rect x="1096" y="347" width="5" height="29"/>
<rect x="1106" y="351" width="1" height="28"/>
<rect x="1104" y="352" width="5" height="24"/>
<rect x="1105" y="353" width="3" height="22" fill="#fff"/>
<rect x="1114" y="350" width="1" height="8"/>
<rect x="1112" y="354" width="5" height="2"/>
<rect x="1122" y="334" width="1" height="25"/>
<rect x="1120" y="338" width="5" height="17"/>
<rect x="1121" y="339" width="3" height="15" fill="#fff"/>
<rect x="1130" y="336" width="1" height="36"/>
<rect x="1128" y="337" width="5" height="34"/>
<rect x="1138" y="358" width="1" height="28"/>
<rect x="1136" y="369" width="5" height="17"/>
<rect x="1146" y="377" width="1" height="54"/>
<rect x="1144" y="384" width="5" height="44"/>
<rect x="1154" y="422" width="1" height="26"/>
<rect x="1152" y="426" width="5" height="16"/>
<rect x="1162" y="441" width="1" height="19"/>
<rect x="1160" y="441" width="5" height="6"/>
<rect x="1170" y="439" width="1" height="15"/>
<rect x="1168" y="446" width="5" height="2"/>
<rect x="1178" y="436" width="1" height="33"/>
<rect x="1176" y="446" width="5" height="5"/>
<rect x="1186" y="433" width="1" height="40"/>
<rect x="1184" y="450" width="5" height="6"/>
<rect x="1194" y="447" width="1" height="46"/>
<rect x="1192" y="454" width="5" height="15"/>
<rect x="1202" y="449" width="1" height="25"/>
<rect x="1200" y="467" width="5" height="2"/>
<rect x="1210" y="465" width="1" height="10"/>
<rect x="1208" y="466" width="5" height="5"/>
<rect x="1218" y="466" width="1" height="23"/>
<rect x="1216" y="469" width="5" height="19"/>
<rect x="1226" y="452" width="1" height="47"/>
<rect x="1224" y="460" width="5" height="27"/>
<rect x="1225" y="461" width="3" height="25" fill="#fff"/>
<rect x="1234" y="459" width="1" height="79"/>
<rect x="1232" y="460" width="5" height="78"/>
<rect x="1242" y="507" width="1" height="39"/>
<rect x="1240" y="528" width="5" height="9"/>
<rect x="1241" y="529" width="3" height="7" fill="#fff"/>
<rect x="1250" y="508" width="1" height="21"/>
<rect x="1248" y="511" width="5" height="18"/>
<rect x="1249" y="512" width="3" height="16" fill="#fff"/>
<rect x="1258" y="511" width="1" height="13"/>
<rect x="1256" y="512" width="5" height="3"/>
<rect x="1266" y="494" width="1" height="20"/>
<rect x="1264" y="503" width="5" height="11"/>
<rect x="1265" y="504" width="3" height="9" fill="#fff"/>
<rect x="1274" y="451" width="1" height="57"/>
<rect x="1272" y="458" width="5" height="47"/>
<rect x="1273" y="459" width="3" height="45" fill="#fff"/>
<rect x="1282" y="443" width="1" height="28"/>
<rect x="1280" y="458" width="5" height="3"/>
<rect x="1290" y="451" width="1" height="26"/>
<rect x="1288" y="454" width="5" height="7"/>
<rect x="1289" y="455" width="3" height="5" fill="#fff"/>
<rect x="1298" y="426" width="1" height="35"/>
<rect x="1296" y="435" width="5" height="20"/>
<rect x="1297" y="436" width="3" height="18" fill="#fff"/>
<rect x="1306" y="443" width="1" height="10"/>
<rect x="1304" y="447" width="5" height="6"/>
<rect x="1314" y="436" width="1" height="29"/>
<rect x="1312" y="451" width="5" height="9"/>
<rect x="1322" y="445" width="1" height="26"/>
<rect x="1320" y="449" width="5" height="11"/>
<rect x="1321" y="450" width="3" height="9" fill="#fff"/>
<rect x="1330" y="441" width="1" height="20"/>
<rect x="1328" y="450" width="5" height="8"/>
<rect x="1338" y="453" width="1" height="39"/>
<rect x="1336" y="457" width="5" height="25"/>
<rect x="1346" y="479" width="1" height="30"/>
<rect x="1344" y="480" width="5" height="19"/>
<rect x="1354" y="490" width="1" height="16"/>
<rect x="1352" y="494" width="5" height="5"/>
<rect x="1353" y="495" width="3" height="3" fill="#fff"/>
<rect x="1362" y="474" width="1" height="22"/>
<rect x="1360" y="476" width="5" height="19"/>
<rect x="1361" y="477" width="3" height="17" fill="#fff"/>
<rect x="1370" y="466" width="1" height="25"/>
<rect x="1368" y="471" width="5" height="4"/>
<rect x="1369" y="472" width="3" height="2" fill="#fff"/>
<rect x="1378" y="460" width="1" height="38"/>
<rect x="1376" y="470" width="5" height="4"/>
<rect x="1386" y="453" width="1" height="38"/>
<rect x="1384" y="474" width="5" height="12"/>
<rect x="1394" y="484" width="1" height="27"/>
<rect x="1392" y="487" width="5" height="8"/>
<rect x="1402" y="491" width="1" height="11"/>
<rect x="1400" y="495" width="5" height="2"/>
<rect x="1410" y="489" width="1" height="16"/>
<rect x="1408" y="493" width="5" height="11"/>
<rect x="1418" y="484" width="1" height="30"/>
<rect x="1416" y="485" width="5" height="21"/>
<rect x="1417" y="486" width="3" height="19" fill="#fff"/>
<rect x="1426" y="478" width="1" height="15"/>
<rect x="1424" y="486" width="5" height="2"/>
<rect x="1434" y="471" width="1" height="42"/>
<rect x="1432" y="487" width="5" height="14"/>
<rect x="1442" y="412" width="1" height="110"/>
<rect x="1440" y="425" width="5" height="76"/>
<rect x="1441" y="426" width="3" height="74" fill="#fff"/>
<rect x="1450" y="412" width="1" height="17"/>
<rect x="1448" y="425" width="5" height="2"/></g>
<g fill="#c0c0c0" shape-rendering="crispEdges"><rect x="2" y="580" width="1" height="36"/>
<rect x="10" y="584" width="1" height="32"/>
<rect x="18" y="589" width="1" height="27"/>
<rect x="26" y="595" width="1" height="21"/>
<rect x="34" y="597" width="1" height="19"/>
<rect x="42" y="601" width="1" height="15"/>
<rect x="50" y="604" width="1" height="12"/>
<rect x="58" y="606" width="1" height="10"/>
<rect x="66" y="606" width="1" height="10"/>
<rect x="74" y="608" width="1" height="8"/>
<rect x="82" y="609" width="1" height="7"/>
<rect x="90" y="610" width="1" height="6"/>
<rect x="98" y="613" width="1" height="3"/>
<rect x="106" y="615" width="1" height="1"/>
<rect x="114" y="616" width="1" height="3"/>
<rect x="122" y="616" width="1" height="6"/>
<rect x="130" y="616" width="1" height="14"/>
<rect x="138" y="616" width="1" height="21"/>
<rect x="146" y="616" width="1" height="27"/>
<rect x="154" y="616" width="1" height="30"/>
<rect x="162" y="616" width="1" height="34"/>
<rect x="170" y="616" width="1" height="36"/>
<rect x="178" y="616" width="1" height="34"/>
<rect x="186" y="616" width="1" height="31"/>
<rect x="194" y="616" width="1" height="32"/>
<rect x="202" y="616" width="1" height="34"/>
<rect x="210" y="616" width="1" height="34"/>
<rect x="218" y="616" width="1" height="28"/>
<rect x="226" y="616" width="1" height="22"/>
<rect x="234" y="616" width="1" height="16"/>
<rect x="242" y="616" width="1" height="15"/>
<rect x="250" y="616" width="1" height="13"/>
<rect x="258" y="616" width="1" height="13"/>
<rect x="266" y="616" width="1" height="11"/>
<rect x="274" y="616" width="1" height="11"/>
<rect x="282" y="616" width="1" height="7"/>
<rect x="290" y="616" width="1" height="6"/>
<rect x="298" y="616" width="1" height="4"/>
<rect x="306" y="616" width="1" height="5"/>
<rect x="314" y="616" width="1" height="6"/>
<rect x="322" y="616" width="1" height="7"/>
<rect x="330" y="616" width="1" height="8"/>
<rect x="338" y="616" width="1" height="9"/>
<rect x="346" y="616" width="1" height="10"/>
<rect x="354" y="616" width="1" height="10"/>
<rect x="362" y="616" width="1" height="10"/>
<rect x="370" y="616" width="1" height="12"/>
<rect x="378" y="616" width="1" height="11"/>
<rect x="386" y="616" width="1" height="11"/>
<rect x="394" y="616" width="1" height="11"/>
<rect x="402" y="616" width="1" height="11"/>
<rect x="410" y="616" width="1" height="10"/>
<rect x="418" y="616" width="1" height="9"/>
<rect x="426" y="616" width="1" height="8"/>
<rect x="434" y="616" width="1" height="11"/>
<rect x="442" y="616" width="1" height="15"/>
<rect x="450" y="616" width="1" height="17"/>
<rect x="458" y="616" width="1" height="20"/>
<rect x="466" y="616" width="1" height="20"/>
<rect x="474" y="616" width="1" height="20"/>
<rect x="482" y="616" width="1" height="19"/>
<rect x="490" y="616" width="1" height="21"/>
<rect x="498" y="616" width="1" height="21"/>
<rect x="506" y="616" width="1" height="19"/>
<rect x="514" y="616" width="1" height="19"/>
<rect x="522" y="616" width="1" height="19"/>
<rect x="530" y="616" width="1" height="19"/>
<rect x="538" y="616" width="1" height="18"/>
<rect x="546" y="616" width="1" height="18"/>
<rect x="554" y="616" width="1" height="21"/>
<rect x="562" y="616" width="1" height="24"/>
<rect x="570" y="616" width="1" height="26"/>
<rect x="578" y="616" width="1" height="26"/>
<rect x="586" y="616" width="1" height="28"/>
<rect x="594" y="616" width="1" height="30"/>
<rect x="602" y="616" width="1" height="30"/>
<rect x="610" y="616" width="1" height="28"/>
<rect x="618" y="616" width="1" height="28"/>
<rect x="626" y="616" width="1" height="27"/>
<rect x="634" y="616" width="1" height="27"/>
<rect x="642" y="616" width="1" height="27"/>
<rect x="650" y="616" width="1" height="26"/>
<rect x="658" y="616" width="1" height="26"/>
<rect x="666" y="616" width="1" height="24"/>
<rect x="674" y="616" width="1" height="25"/>
<rect x="682" y="616" width="1" height="26"/>
<rect x="690" y="616" width="1" height="26"/>
<rect x="698" y="616" width="1" height="26"/>
<rect x="706" y="616" width="1" height="26"/>
<rect x="714" y="616" width="1" height="17"/>
<rect x="722" y="616" width="1" height="6"/>
<rect x="730" y="614" width="1" height="2"/>
<rect x="738" y="604" width="1" height="12"/>
<rect x="746" y="597" width="1" height="19"/>
<rect x="754" y="594" width="1" height="22"/>
<rect x="762" y="599" width="1" height="17"/>
<rect x="770" y="600" width="1" height="16"/>
<rect x="778" y="603" width="1" height="13"/>
<rect x="786" y="605" width="1" height="11"/>
<rect x="794" y="606" width="1" height="10"/>
<rect x="802" y="608" width="1" height="8"/>
<rect x="810" y="610" width="1" height="6"/>
<rect x="818" y="611" width="1" height="5"/>
<rect x="826" y="612" width="1" height="4"/>
<rect x="834" y="616" width="1" height="1"/>
<rect x="842" y="616" width="1" height="6"/>
<rect x="850" y="616" width="1" height="7"/>
<rect x="858" y="616" width="1" height="10"/>
<rect x="866" y="616" width="1" height="14"/>
<rect x="874" y="616" width="1" height="16"/>
<rect x="882" y="616" width="1" height="19"/>
<rect x="890" y="616" width="1" height="19"/>
<rect x="898" y="616" width="1" height="19"/>
<rect x="906" y="616" width="1" height="19"/>
<rect x="914" y="616" width="1" height="20"/>
<rect x="922" y="616" width="1" height="19"/>
<rect x="930" y="616" width="1" height="16"/>
<rect x="938" y="616" width="1" height="16"/>
<rect x="946" y="616" width="1" height="12"/>
<rect x="954" y="616" width="1" height="8"/>
<rect x="962" y="616" width="1" height="2"/>
<rect x="970" y="616" width="1" height="1"/>
<rect x="986" y="612" width="1" height="4"/>
<rect x="994" y="614" width="1" height="2"/>
<rect x="1002" y="614" width="1" height="2"/>
<rect x="1026" y="616" width="1" height="2"/>
<rect x="1034" y="616" width="1" height="17"/>
<rect x="1042" y="616" width="1" height="29"/>
<rect x="1050" y="616" width="1" height="44"/>
<rect x="1058" y="616" width="1" height="58"/>
<rect x="1066" y="616" width="1" height="68"/>
<rect x="1074" y="616" width="1" height="76"/>
<rect x="1082" y="616" width="1" height="89"/>
<rect x="1090" y="616" width="1" height="99"/>
<rect x="1098" y="616" width="1" height="110"/>
<rect x="1106" y="616" width="1" height="114"/>
<rect x="1114" y="616" width="1" height="116"/>
<rect x="1122" y="616" width="1" height="112"/>
<rect x="1130" y="616" width="1" height="114"/>
<rect x="1138" y="616" width="1" height="118"/>
<rect x="1146" y="616" width="1" height="127"/>
<rect x="1154" y="616" width="1" height="135"/>
<rect x="1162" y="616" width="1" height="142"/>
<rect x="1170" y="616" width="1" height="145"/>
<rect x="1178" y="616" width="1" height="147"/>
<rect x="1186" y="616" width="1" height="148"/>
<rect x="1194" y="616" width="1" height="150"/>
<rect x="1202" y="616" width="1" height="148"/>
<rect x="1210" y="616" width="1" height="145"/>
<rect x="1218" y="616" width="1" height="145"/>
<rect x="1226" y="616" width="1" height="140"/>
<rect x="1234" y="616" width="1" height="148"/>
<rect x="1242" y="616" width="1" height="152"/>
<rect x="1250" y="616" width="1" height="148"/>
<rect x="1258" y="616" width="1" height="145"/>
<rect x="1266" y="616" width="1" height="139"/>
<rect x="1274" y="616" width="1" height="124"/>
<rect x="1282" y="616" width="1" height="110"/>
<rect x="1290" y="616" width="1" height="98"/>
<rect x="1298" y="616" width="1" height="83"/>
<rect x="1306" y="616" width="1" height="74"/>
<rect x="1314" y="616" width="1" height="68"/>
<rect x="1322" y="616" width="1" height="60"/>
<rect x="1330" y="616" width="1" height="55"/>
<rect x="1338" y="616" width="1" height="54"/>
<rect x="1346" y="616" width="1" height="56"/>
<rect x="1354" y="616" width="1" height="57"/>
<rect x="1362" y="616" width="1" height="55"/>
<rect x="1370" y="616" width="1" height="48"/>
<rect x="1378" y="616" width="1" height="46"/>
<rect x="1386" y="616" width="1" height="45"/>
<rect x="1394" y="616" width="1" height="46"/>
<rect x="1402" y="616" width="1" height="44"/>
<rect x="1410" y="616" width="1" height="42"/>
<rect x="1418" y="616" width="1" height="42"/>
<rect x="1426" y="616" width="1" height="40"/>
<rect x="1434" y="616" width="1" height="39"/>
<rect x="1442" y="616" width="1" height="25"/>
<rect x="1450" y="616" width="1" height="12"/></g>
<polyline points="0.5,577.8 15.5,575.9 25.5,577.3 35.5,580.3 50.5,589 65.5,595.2 75.5,599.7 90.5,602.7 100.5,605.1 110.5,608.1 125.5,612.1 135.5,616.3 150.5,625 160.5,630.9 168.5,634 174.5,637 180.5,640 186.5,643 192.5,646 198.5,648.5 210.5,648.9 222.5,648.9 228.5,647.5 234.5,646 242.5,646 255.5,641.9 270.5,636.9 290.5,631.2 305.5,627 325.5,625 345.5,623.8 365.5,625 385.5,627 410.5,627.5 420.5,626.4 445.5,627.2 470.1,629.6 495,633.9 519.8,636.3 544.5,635.6 569.5,636.3 594.2,640.1 619.1,643.8 643.9,644.5 668.5,644.5 693.5,643 713.4,642.1 725.8,637.6 743.2,628.2 758,619 775.5,609.8 787.8,603.3 797.8,601.6 812.5,601.6 822.5,604.8 840,609 852.9,612.3 865.3,617.3 877.7,621.5 890.1,626.5 902.5,630.2 915,632.2 927.4,633.9 944.7,634.7 957.2,632.7 969.5,629.7 982,625.2 994.4,620.3 1009.3,616.6 1024.2,616.1 1036.5,617.8 1049,625.2 1063.9,638.9 1078.8,652.5 1091.2,669.9 1101.1,686.1 1113.5,699.7 1125.9,712.1 1138.3,720.8 1150.8,730.7 1163.2,738.2 1188,749.3 1207.8,760.5 1225.2,763 1242.5,765 1260.3,764.2 1275.2,759.3 1290.1,749.3 1305,736.9 1319.9,719.6 1334.7,703.4 1349.6,688.5 1364.5,678.6 1379.4,669.9 1394.3,667.9 1409.2,665.5 1424.1,664.5 1439,660 1450.2,654.5" fill="none" stroke="#ff0000" stroke-width="1" stroke-dasharray="3 3" shape-rendering="crispEdges"/>
<line x1="0" y1="810.5" x2="1645" y2="810.5" stroke="#c0c0c0" stroke-width="1" stroke-dasharray="3 3" stroke-dashoffset="1" shape-rendering="crispEdges"/>
<line x1="0" y1="852.5" x2="1645" y2="852.5" stroke="#c0c0c0" stroke-width="1" stroke-dasharray="3 3" stroke-dashoffset="1" shape-rendering="crispEdges"/>
<line x1="0" y1="901.5" x2="1645" y2="901.5" stroke="#c0c0c0" stroke-width="1" stroke-dasharray="3 3" stroke-dashoffset="1" shape-rendering="crispEdges"/>
<polyline points="2.5,848 10.5,848 18.5,852 26.5,854.5 34.5,850.5 42.5,854.2 50.5,853 58.5,852 66.5,848.8 74.5,854 82.5,851.2 90.5,852.5 98.5,855.5 106.5,859.5 114.5,864.1 122.5,867.4 130.5,875.5 138.5,880.5 146.5,879.3 154.5,876.8 162.5,877.8 170.5,879 178.5,861.2 186.5,861.2 194.5,869.4 202.5,871.8 210.5,866.6 218.5,857.9 226.5,847 234.5,850 242.5,854.5 250.5,853.7 258.5,860.4 266.5,853.7 274.5,856.9 282.5,848.8 290.5,853 298.5,850 306.5,855 314.5,857.9 322.5,854.5 330.5,861.2 338.5,863.6 346.5,863.6 354.5,859.4 362.5,853.7 370.5,864.9 378.5,856.9 386.5,856.9 394.5,857.9 402.5,857.9 410.5,851.2 418.5,848.9 426.5,862.5 434.5,868.3 442.5,870 450.5,870.5 458.5,872.5 466.5,863 474.5,864.5 482.5,866.3 490.5,868.3 498.5,864.5 506.5,858.1 514.5,860.8 522.5,869.5 530.5,862.1 538.5,863.8 546.5,863.8 554.5,873.7 562.5,876.9 570.5,876.9 578.5,872.5 586.5,875.5 594.5,879.4 602.5,872 610.5,870 618.5,868.8 626.5,872.5 634.5,873 642.5,872 650.5,875.5 658.5,869.5 666.5,863.8 674.5,875.5 682.5,875.5 690.5,868.8 698.5,873.7 706.5,873.7 714.5,839 722.5,829 730.5,825.8 738.5,822.8 746.5,824.8 754.5,831.5 762.5,855.6 770.5,848.9 778.5,852.6 786.5,853.1 794.5,850.1 802.5,853.1 810.5,854.6 818.5,852.6 826.5,855.1 834.5,865.5 842.5,869.5 850.5,859.3 858.5,863.8 866.5,866.8 874.5,866.8 882.5,868 890.5,863.8 898.5,863 906.5,865 914.5,868 922.5,862.1 930.5,849.6 938.5,863.8 946.5,846.7 954.5,846.7 962.5,843.9 970.5,842.7 978.5,850.6 986.5,841.7 994.5,855.6 1002.5,852.1 1010.5,855.6 1018.5,857.6 1026.5,858.8 1034.5,881.4 1042.5,881.9 1050.5,888.6 1058.5,891.8 1066.5,889.9 1074.5,893.6 1082.5,897.8 1090.5,896.8 1098.5,901 1106.5,887.9 1114.5,888.6 1122.5,879.9 1130.5,885.6 1138.5,889.4 1146.5,894.3 1154.5,896.1 1162.5,896.8 1170.5,896.8 1178.5,897.8 1186.5,898 1194.5,899.8 1202.5,899 1210.5,899.8 1218.5,901 1226.5,885.4 1234.5,896.1 1242.5,892.5 1250.5,885.6 1258.5,885.6 1266.5,881.2 1274.5,863 1282.5,863.8 1290.5,860.6 1298.5,854.6 1306.5,859.6 1314.5,861.3 1322.5,858.1 1330.5,860.6 1338.5,867 1346.5,871.2 1354.5,869.5 1362.5,862.1 1370.5,860.6 1378.5,861.3 1386.5,864.5 1394.5,868 1402.5,867.5 1410.5,870.5 1418.5,862.1 1426.5,862.5 1434.5,867 1442.5,844.7 1450.5,837.2" fill="none" stroke="#1e90ff" stroke-width="1" shape-rendering="crispEdges"/><rect x="923.5" y="140.5" width="62" height="18" fill="#fff" stroke="#ff0000" stroke-width="1"/><text x="925.0" y="156.0" font-family="Liberation Sans" font-size="16.5" fill="#ff0000" textLength="58" lengthAdjust="spacingAndGlyphs">1.30892</text><rect x="985" y="149" width="9" height="1" fill="#ff0000"/><rect x="1171.5" y="537.5" width="62" height="18" fill="#fff" stroke="#ff0000" stroke-width="1"/><text x="1173.0" y="553.0" font-family="Liberation Sans" font-size="16.5" fill="#ff0000" textLength="58" lengthAdjust="spacingAndGlyphs">1.24076</text><rect x="1233" y="545" width="9" height="1" fill="#ff0000"/><rect x="1371.5" y="402.5" width="62" height="18" fill="#fff" stroke="#ff0000" stroke-width="1"/><text x="1373.0" y="418.0" font-family="Liberation Sans" font-size="16.5" fill="#ff0000" textLength="58" lengthAdjust="spacingAndGlyphs">1.26394</text><rect x="1433.5" y="409.5" width="3" height="3" fill="#fff" stroke="#ff0000" stroke-width="1"/><rect x="1437" y="411" width="5" height="1" fill="#ff0000"/><rect x="1442" y="411" width="1" height="1" fill="#ff0000"/><rect x="1349.5" y="431.5" width="74" height="24" fill="#fff" stroke="#ff0000" stroke-width="1"/><text x="1351.0" y="451.0" font-family="Liberation Sans" font-size="20" fill="#ff0000" textLength="70" lengthAdjust="spacingAndGlyphs">1.25846</text><rect x="1338" y="443" width="8" height="1" fill="#ff0000"/><rect x="1345.5" y="441.5" width="3" height="3" fill="#fff" stroke="#ff0000" stroke-width="1"/><path d="M1239.0 544.0 L1297.2 449.1" stroke="#ff0000" stroke-width="3.4" stroke-linecap="butt"/><path d="M1301.0 443.0 L1299.8 456.4 L1296.6 450.2 L1289.6 450.1 Z" fill="#ff0000"/><path d="M1301.0 443.0 L1425.6 507.7" stroke="#ff0000" stroke-width="3.4" stroke-linecap="butt"/><path d="M1432.0 511.0 L1418.6 510.8 L1424.5 507.1 L1424.1 500.1 Z" fill="#ff0000"/><path d="M1432.0 511.0 L1469.0 431.5" stroke="#ff0000" stroke-width="3.4" stroke-linecap="butt"/><path d="M1472.0 425.0 L1472.4 438.4 L1468.5 432.6 L1461.5 433.4 Z" fill="#ff0000"/><path d="M1364.0 673.0 L1462.4 629.9" stroke="#ff0000" stroke-width="3.4" stroke-linecap="butt"/><path d="M1469.0 627.0 L1460.4 637.3 L1461.3 630.4 L1455.6 626.3 Z" fill="#ff0000"/><path d="M1420.0 874.5 L1448.0 832.0" stroke="#ff0000" stroke-width="3.4" stroke-linecap="butt"/><path d="M1452.0 826.0 L1450.4 839.3 L1447.4 833.0 L1440.4 832.7 Z" fill="#ff0000"/>
</svg>
<div class="pl" style="top:23px">1.33010</div>
<div class="pl" style="top:56px">1.32440</div>
<div class="pl" style="top:89px">1.31870</div>
<div class="pl" style="top:122px">1.31300</div>
<div class="pl" style="top:155px">1.30730</div>
<div class="pl" style="top:188px">1.30175</div>
<div class="pl" style="top:221px">1.29605</div>
<div class="pl" style="top:254px">1.29035</div>
<div class="pl" style="top:287px">1.28465</div>
<div class="pl" style="top:320px">1.27895</div>
<div class="pl" style="top:353px">1.27340</div>
<div class="pl" style="top:386px">1.26770</div>
<div class="pl" style="top:419px">1.26200</div>
<div class="pl" style="top:452px">1.25630</div>
<div class="pl" style="top:485px">1.25060</div>
<div class="pl" style="top:518px">1.24505</div>
<div class="pl" style="top:551px">1.23935</div>
<div class="lb" style="top:356px;background:#ff4500">1.27235</div>
<div class="lb" style="top:386px;background:#ff0000">1.26720</div>
<div class="lb" style="top:420px;background:#000000">1.26147</div>
<div class="lb" style="top:437px;background:#32cd32">1.25846</div>
<div class="lb" style="top:466px;background:#0000ff">1.25348</div>
<div class="lb" style="top:501px;background:#0000ff">1.24741</div>
<div class="pl" style="top:563px;left:1649px">0.00391</div>
<div class="pl" style="top:613px;left:1649px">0.00</div>
<div class="pl" style="top:768px;left:1649px">-0.011331</div>
<div class="pl" style="top:784px;left:1649px">100</div>
<div class="pl" style="top:807px;left:1648px">80</div>
<div class="pl" style="top:849px;left:1648px">50</div>
<div class="pl" style="top:898px;left:1648px">15</div>
<div class="pl" style="top:913px;left:1649px">0</div>
<div class="tl" style="left:-2px">Mar 2022</div>
<div class="tl" style="left:49px">24 Mar 16:00</div>
<div class="tl" style="left:113px">28 Mar 00:00</div>
<div class="tl" style="left:177px">29 Mar 08:00</div>
<div class="tl" style="left:241px">30 Mar 16:00</div>
<div class="tl" style="left:305px">1 Apr 00:00</div>
<div class="tl" style="left:369px">4 Apr 08:00</div>
<div class="tl" style="left:433px">5 Apr 16:00</div>
<div class="tl" style="left:497px">7 Apr 00:00</div>
<div class="tl" style="left:561px">8 Apr 08:00</div>
<div class="tl" style="left:625px">11 Apr 16:00</div>
<div class="tl" style="left:689px">13 Apr 00:00</div>
<div class="tl" style="left:753px">14 Apr 08:00</div>
<div class="tl" style="left:817px">15 Apr 16:00</div>
<div class="tl" style="left:881px">19 Apr 00:00</div>
<div class="tl" style="left:945px">20 Apr 08:00</div>
<div class="tl" style="left:1009px">21 Apr 16:00</div>
<div class="tl" style="left:1073px">25 Apr 00:00</div>
<div class="tl" style="left:1137px">26 Apr 08:00</div>
<div class="tl" style="left:1201px">27 Apr 16:00</div>
<div class="tl" style="left:1265px">29 Apr 00:00</div>
<div class="tl" style="left:1329px">2 May 08:00</div>
<div class="tl" style="left:1393px">3 May 16:00</div>
<div class="a ttl" style="left:1px;top:26px">GBPUSD-,H4&nbsp;&nbsp; 1.26162 1.26368 1.26108 1.26147</div>
<div class="a ttl" style="left:-9px;top:564px">MACD(12,26,9) -0.000925 -0.002675</div>
<div class="a ttl" style="left:-8px;top:785px">RSI(14) 59.6462</div>
<div class="a" style="left:0;top:40px;width:209px;height:60px;background:#fff;"></div>
<svg class="a" style="left:12px;top:37px" width="8" height="7"><path d="M3.5 0.5 L6.5 3.5 L3.5 6.5 L0.5 3.5 Z" fill="#fff" stroke="#000" stroke-width="1"/></svg>
<div class="a" style="left:0;top:42px;width:41px;height:24px;background:linear-gradient(#5858f8,#2c2ce0);"></div>
<div class="a" style="left:0;top:65px;width:37px;height:1px;background:#7a7af0;"></div>
<div class="a bt" style="left:1px;top:47px;letter-spacing:-1.1px;">SELL</div>
<div class="a" style="left:156px;top:42px;width:52px;height:24px;background:linear-gradient(#5858f8,#2c2ce0);"></div>
<div class="a" style="left:160px;top:65px;width:46px;height:1px;background:#7a7af0;"></div>
<div class="a bt" style="left:168px;top:47px;">BUY</div>
<div class="a" style="left:43px;top:42px;width:108px;height:20px;border:1px solid #a8a8a8;background:#fff;"></div>
<div class="a" style="left:44px;top:43px;width:19px;height:19px;background:linear-gradient(#f0f0f0,#c8c8c8);border-right:1px solid #a8a8a8;"></div>
<div class="a" style="left:132px;top:43px;width:19px;height:19px;background:linear-gradient(#f0f0f0,#c8c8c8);border-left:1px solid #a8a8a8;"></div>
<svg class="a" style="left:0;top:0" width="210" height="100"><path d="M50.5 51 h6 l-3 3 z" fill="#4a5ab8"/><path d="M139.5 54 h6 l-3 -3 z" fill="#4a5ab8"/></svg>
<div class="a" style="left:105px;top:45px;font-size:13px;line-height:14px;color:#000;letter-spacing:-0.4px;">1.00</div>
<div class="a" style="left:0;top:66px;width:98px;height:33px;background:linear-gradient(#2e2ee0,#0000b4);"></div>
<div class="a" style="left:100px;top:66px;width:108px;height:33px;background:linear-gradient(#2e2ee0,#0000b4);"></div>
<div class="a pr" style="left:9px;top:84px;">1.26</div>
<div class="a pb" style="left:35px;top:66px;">14</div>
<div class="a ps" style="left:75px;top:68px;">7</div>
<div class="a pr" style="left:119px;top:84px;">1.26</div>
<div class="a pb" style="left:146px;top:66px;">39</div>
<div class="a ps" style="left:186px;top:68px;">3</div>
</body></html>
